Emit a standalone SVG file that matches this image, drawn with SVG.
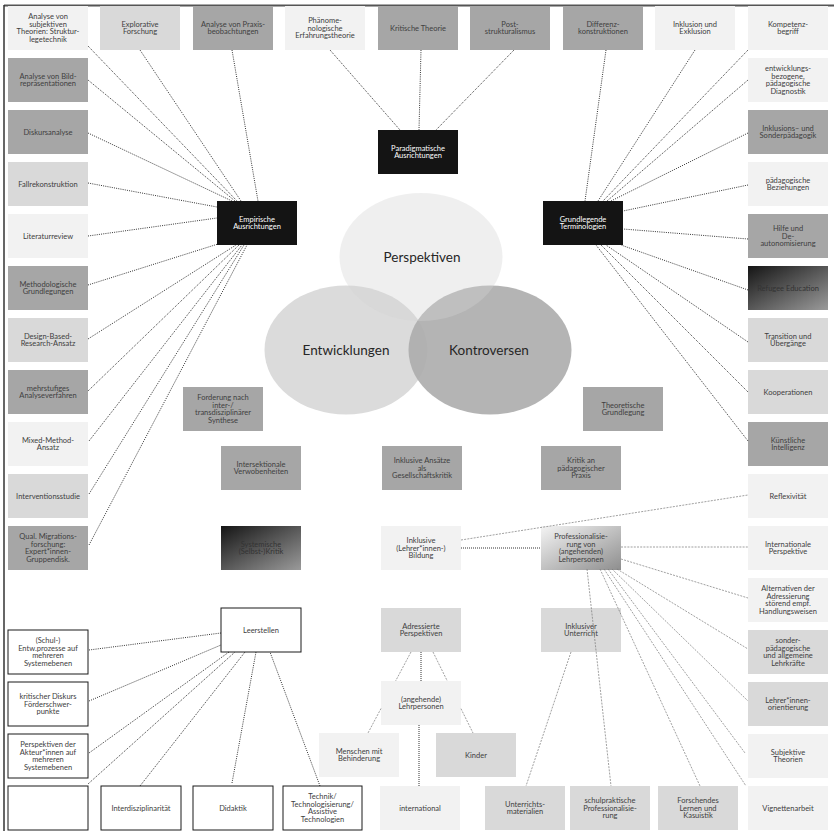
<svg xmlns="http://www.w3.org/2000/svg" width="834" height="831" viewBox="0 0 834 831">
<defs>
<linearGradient id="gDark" x1="0" y1="0" x2="1" y2="1"><stop offset="0" stop-color="#151515"/><stop offset="1" stop-color="#9a9a9a"/></linearGradient>
<linearGradient id="gLight" x1="0" y1="0" x2="1" y2="1"><stop offset="0" stop-color="#f4f4f4"/><stop offset="1" stop-color="#8e8e8e"/></linearGradient>
<style>
.l{fill:#f2f2f2}.m{fill:#d9d9d9}.d{fill:#a6a6a6}.k{fill:#141414}.w{fill:#fff;stroke:#1a1a1a;stroke-width:1}
.gd{fill:url(#gDark)}.gl{fill:url(#gLight)}
text{font-family:Lato,"Liberation Sans",sans-serif;font-size:7.5px;fill:#404040;text-anchor:middle}
text.wt{fill:#fff}
text.big{font-size:13.5px;fill:#262626}
.dot{stroke:#000;stroke-width:0.8;stroke-dasharray:1 1.2;fill:none}
.thin{stroke:#777;stroke-width:0.7;stroke-dasharray:2 1.2;fill:none}
.dk{stroke:#333;stroke-width:1;stroke-dasharray:1 1;fill:none}
</style>
</defs>
<rect width="834" height="831" fill="#fff"/>
<line x1="4" y1="5.5" x2="834" y2="5.5" stroke="#555" stroke-width="2"/>
<line x1="4" y1="5" x2="4" y2="831" stroke="#333" stroke-width="1.5"/>

<g id="venn">
<ellipse cx="346" cy="350" rx="81.5" ry="64.5" fill="#dbdbdb"/>
<ellipse cx="490" cy="350" rx="81.5" ry="64.5" fill="#aeaeae" opacity="0.92"/>
<ellipse cx="421" cy="257" rx="81.5" ry="64" fill="#d4d4d4" opacity="0.36"/>
<text class="big" x="422" y="262">Perspektiven</text>
<text class="big" x="346" y="355">Entwicklungen</text>
<text class="big" x="489" y="355">Kontroversen</text>
</g>

<!-- top row -->
<g id="n-subj"><rect class="l" x="8" y="6" width="80" height="44"/><text><tspan x="48" y="19.2">Analyse von</tspan><tspan x="48" y="26.8">subjektiven</tspan><tspan x="48" y="34.4">Theorien: Struktur-</tspan><tspan x="48" y="42">legetechnik</tspan></text></g>
<g id="n-explor"><rect class="m" x="100" y="6" width="80" height="44"/><text><tspan x="140" y="26.8">Explorative</tspan><tspan x="140" y="34.4">Forschung</tspan></text></g>
<g id="n-praxis"><rect class="d" x="193" y="6" width="80" height="44"/><text><tspan x="233" y="26.8">Analyse von Praxis-</tspan><tspan x="233" y="34.4">beobachtungen</tspan></text></g>
<g id="n-phaeno"><rect class="l" x="285" y="6" width="80" height="44"/><text><tspan x="325" y="23">Phänome-</tspan><tspan x="325" y="30.6">nologische</tspan><tspan x="325" y="38.2">Erfahrungstheorie</tspan></text></g>
<g id="n-krit"><rect class="d" x="378" y="6" width="80" height="44"/><text><tspan x="418" y="30.6">Kritische Theorie</tspan></text></g>
<g id="n-post"><rect class="d" x="470" y="6" width="80" height="44"/><text><tspan x="510" y="26.8">Post-</tspan><tspan x="510" y="34.4">strukturalismus</tspan></text></g>
<g id="n-diff"><rect class="d" x="563" y="6" width="80" height="44"/><text><tspan x="603" y="26.8">Differenz-</tspan><tspan x="603" y="34.4">konstruktionen</tspan></text></g>
<g id="n-inkl"><rect class="l" x="655" y="6" width="80" height="44"/><text><tspan x="695" y="26.8">Inklusion und</tspan><tspan x="695" y="34.4">Exklusion</tspan></text></g>
<g id="n-komp"><rect class="l" x="748" y="6" width="80" height="44"/><text><tspan x="788" y="26.8">Kompetenz-</tspan><tspan x="788" y="34.4">begriff</tspan></text></g>

<!-- left column -->
<g id="n-bild"><rect class="d" x="8" y="58" width="80" height="44"/><text><tspan x="48" y="78.8">Analyse von Bild-</tspan><tspan x="48" y="86.4">repräsentationen</tspan></text></g>
<g id="n-diskurs"><rect class="d" x="8" y="110" width="80" height="44"/><text><tspan x="48" y="134.6">Diskursanalyse</tspan></text></g>
<g id="n-fall"><rect class="m" x="8" y="162" width="80" height="44"/><text><tspan x="48" y="186.6">Fallrekonstruktion</tspan></text></g>
<g id="n-lit"><rect class="l" x="8" y="214" width="80" height="44"/><text><tspan x="48" y="238.6">Literaturreview</tspan></text></g>
<g id="n-meth"><rect class="d" x="8" y="266" width="80" height="44"/><text><tspan x="48" y="286.8">Methodologische</tspan><tspan x="48" y="294.4">Grundlegungen</tspan></text></g>
<g id="n-dbr"><rect class="m" x="8" y="318" width="80" height="44"/><text><tspan x="48" y="338.8">Design-Based-</tspan><tspan x="48" y="346.4">Research-Ansatz</tspan></text></g>
<g id="n-mehr"><rect class="d" x="8" y="370" width="80" height="44"/><text><tspan x="48" y="390.8">mehrstufiges</tspan><tspan x="48" y="398.4">Analyseverfahren</tspan></text></g>
<g id="n-mixed"><rect class="l" x="8" y="422" width="80" height="44"/><text><tspan x="48" y="442.8">Mixed-Method-</tspan><tspan x="48" y="450.4">Ansatz</tspan></text></g>
<g id="n-interv"><rect class="m" x="8" y="474" width="80" height="44"/><text><tspan x="48" y="498.6">Interventionsstudie</tspan></text></g>
<g id="n-qual"><rect class="d" x="8" y="526" width="80" height="44"/><text><tspan x="48" y="539.2">Qual. Migrations-</tspan><tspan x="48" y="546.8">forschung:</tspan><tspan x="48" y="554.4">Expert*innen-</tspan><tspan x="48" y="562">Gruppendisk.</tspan></text></g>

<!-- right column -->
<g id="n-entw"><rect class="l" x="748" y="58" width="80" height="44"/><text><tspan x="788" y="71.2">entwicklungs-</tspan><tspan x="788" y="78.8">bezogene,</tspan><tspan x="788" y="86.4">pädagogische</tspan><tspan x="788" y="94">Diagnostik</tspan></text></g>
<g id="n-sonder"><rect class="d" x="748" y="110" width="80" height="44"/><text><tspan x="788" y="130.8">Inklusions– und</tspan><tspan x="788" y="138.4">Sonderpädagogik</tspan></text></g>
<g id="n-bez"><rect class="l" x="748" y="162" width="80" height="44"/><text><tspan x="788" y="182.8">pädagogische</tspan><tspan x="788" y="190.4">Beziehungen</tspan></text></g>
<g id="n-hilfe"><rect class="d" x="748" y="214" width="80" height="44"/><text><tspan x="788" y="231">Hilfe und</tspan><tspan x="788" y="238.6">De-</tspan><tspan x="788" y="246.2">autonomisierung</tspan></text></g>
<g id="n-refugee"><rect class="gd" x="748" y="266" width="80" height="44"/><text style="fill:#333"><tspan x="788" y="290.6">Refugee Education</tspan></text></g>
<g id="n-trans"><rect class="m" x="748" y="318" width="80" height="44"/><text><tspan x="788" y="338.8">Transition und</tspan><tspan x="788" y="346.4">Übergänge</tspan></text></g>
<g id="n-koop"><rect class="m" x="748" y="370" width="80" height="44"/><text><tspan x="788" y="394.6">Kooperationen</tspan></text></g>
<g id="n-ki"><rect class="d" x="748" y="422" width="80" height="44"/><text><tspan x="788" y="442.8">Künstliche</tspan><tspan x="788" y="450.4">Intelligenz</tspan></text></g>
<g id="n-refl"><rect class="l" x="748" y="474" width="80" height="44"/><text><tspan x="788" y="498.6">Reflexivität</tspan></text></g>
<g id="n-intpersp"><rect class="l" x="748" y="526" width="80" height="44"/><text><tspan x="788" y="546.8">Internationale</tspan><tspan x="788" y="554.4">Perspektive</tspan></text></g>
<g id="n-altern"><rect class="l" x="748" y="578" width="80" height="44"/><text><tspan x="788" y="591.2">Alternativen der</tspan><tspan x="788" y="598.8">Adressierung</tspan><tspan x="788" y="606.4">störend empf.</tspan><tspan x="788" y="614">Handlungsweisen</tspan></text></g>
<g id="n-lehrkr"><rect class="m" x="748" y="630" width="80" height="44"/><text><tspan x="788" y="643.2">sonder-</tspan><tspan x="788" y="650.8">pädagogische</tspan><tspan x="788" y="658.4">und allgemeine</tspan><tspan x="788" y="666">Lehrkräfte</tspan></text></g>
<g id="n-orient"><rect class="m" x="748" y="682" width="80" height="44"/><text><tspan x="788" y="702.8">Lehrer*innen-</tspan><tspan x="788" y="710.4">orientierung</tspan></text></g>
<g id="n-subjth"><rect class="l" x="748" y="734" width="80" height="44"/><text><tspan x="788" y="754.8">Subjektive</tspan><tspan x="788" y="762.4">Theorien</tspan></text></g>
<g id="n-vign"><rect class="l" x="748" y="786" width="80" height="44"/><text><tspan x="788" y="810.6">Vignettenarbeit</tspan></text></g>

<!-- bottom row -->
<g id="n-empty"><rect class="w" x="8" y="786" width="80" height="44"/></g>
<g id="n-interdis"><rect class="w" x="101" y="786" width="80" height="44"/><text><tspan x="141" y="810.6">Interdisziplinarität</tspan></text></g>
<g id="n-didaktik"><rect class="w" x="193" y="786" width="80" height="44"/><text><tspan x="233" y="810.6">Didaktik</tspan></text></g>
<g id="n-technik"><rect class="w" x="283" y="786" width="79" height="44"/><text><tspan x="322.5" y="799.2">Technik/</tspan><tspan x="322.5" y="806.8">Technologisierung/</tspan><tspan x="322.5" y="814.4">Assistive</tspan><tspan x="322.5" y="822">Technologien</tspan></text></g>
<g id="n-international"><rect class="l" x="380" y="786" width="80" height="44"/><text><tspan x="420" y="810.6">international</tspan></text></g>
<g id="n-material"><rect class="m" x="485" y="786" width="80" height="44"/><text><tspan x="525" y="806.8">Unterrichts-</tspan><tspan x="525" y="814.4">materialien</tspan></text></g>
<g id="n-schulprakt"><rect class="m" x="570" y="786" width="80" height="44"/><text><tspan x="610" y="803">schulpraktische</tspan><tspan x="610" y="810.6">Professionalisie-</tspan><tspan x="610" y="818.2">rung</tspan></text></g>
<g id="n-forsch"><rect class="m" x="658" y="786" width="80" height="44"/><text><tspan x="698" y="803">Forschendes</tspan><tspan x="698" y="810.6">Lernen und</tspan><tspan x="698" y="818.2">Kasuistik</tspan></text></g>

<!-- left lower -->
<g id="n-schul"><rect class="w" x="8" y="630" width="80" height="44"/><text><tspan x="48" y="643.2">(Schul-)</tspan><tspan x="48" y="650.8">Entw.prozesse auf</tspan><tspan x="48" y="658.4">mehreren</tspan><tspan x="48" y="666">Systemebenen</tspan></text></g>
<g id="n-foerder"><rect class="w" x="8" y="682" width="80" height="44"/><text><tspan x="48" y="699">kritischer Diskurs</tspan><tspan x="48" y="706.6">Förderschwer-</tspan><tspan x="48" y="714.2">punkte</tspan></text></g>
<g id="n-akteur"><rect class="w" x="8" y="734" width="80" height="44"/><text><tspan x="48" y="747.2">Perspektiven der</tspan><tspan x="48" y="754.8">Akteur*innen auf</tspan><tspan x="48" y="762.4">mehreren</tspan><tspan x="48" y="770">Systemebenen</tspan></text></g>

<!-- center -->
<g id="n-paradigm"><rect class="k" x="378" y="130" width="80" height="44"/><text class="wt"><tspan x="418" y="150.8">Paradigmatische</tspan><tspan x="418" y="158.4">Ausrichtungen</tspan></text></g>
<g id="n-empir"><rect class="k" x="217" y="201" width="80" height="44"/><text class="wt"><tspan x="257" y="221.8">Empirische</tspan><tspan x="257" y="229.4">Ausrichtungen</tspan></text></g>
<g id="n-grundl"><rect class="k" x="543" y="201" width="80" height="44"/><text class="wt"><tspan x="583" y="221.8">Grundlegende</tspan><tspan x="583" y="229.4">Terminologien</tspan></text></g>
<g id="n-forderung"><rect class="d" x="183" y="387" width="80" height="44"/><text><tspan x="223" y="400.2">Forderung nach</tspan><tspan x="223" y="407.8">inter-/</tspan><tspan x="223" y="415.4">transdisziplinärer</tspan><tspan x="223" y="423">Synthese</tspan></text></g>
<g id="n-intersekt"><rect class="d" x="221" y="446" width="80" height="44"/><text><tspan x="261" y="466.8">Intersektionale</tspan><tspan x="261" y="474.4">Verwobenheiten</tspan></text></g>
<g id="n-system"><rect class="gd" x="221" y="526" width="80" height="44"/><text style="fill:#333"><tspan x="261" y="546.8">Systemische</tspan><tspan x="261" y="554.4">(Selbst-)Kritik</tspan></text></g>
<g id="n-gesell"><rect class="d" x="382" y="446" width="80" height="44"/><text><tspan x="422" y="463">Inklusive Ansätze</tspan><tspan x="422" y="470.6">als</tspan><tspan x="422" y="478.2">Gesellschaftskritik</tspan></text></g>
<g id="n-theor"><rect class="d" x="583" y="387" width="80" height="44"/><text><tspan x="623" y="407.8">Theoretische</tspan><tspan x="623" y="415.4">Grundlegung</tspan></text></g>
<g id="n-kritik"><rect class="d" x="541" y="446" width="80" height="44"/><text><tspan x="581" y="463">Kritik an</tspan><tspan x="581" y="470.6">pädagogischer</tspan><tspan x="581" y="478.2">Praxis</tspan></text></g>
<g id="n-bildung"><rect class="l" x="381" y="526" width="80" height="44"/><text><tspan x="421" y="543">Inklusive</tspan><tspan x="421" y="550.6">(Lehrer*innen-)</tspan><tspan x="421" y="558.2">Bildung</tspan></text></g>
<g id="n-prof"><rect class="gl" x="541" y="526" width="80" height="44"/><text><tspan x="581" y="539.2">Professionalisie-</tspan><tspan x="581" y="546.8">rung von</tspan><tspan x="581" y="554.4">(angehenden)</tspan><tspan x="581" y="562">Lehrpersonen</tspan></text></g>
<g id="n-leer"><rect class="w" x="221" y="608" width="80" height="44"/><text><tspan x="261" y="632.6">Leerstellen</tspan></text></g>
<g id="n-adress"><rect class="m" x="381" y="608" width="80" height="44"/><text><tspan x="421" y="628.8">Adressierte</tspan><tspan x="421" y="636.4">Perspektiven</tspan></text></g>
<g id="n-unterr"><rect class="m" x="541" y="608" width="80" height="44"/><text><tspan x="581" y="628.8">Inklusiver</tspan><tspan x="581" y="636.4">Unterricht</tspan></text></g>
<g id="n-lehrp"><rect class="l" x="381" y="681" width="80" height="44"/><text><tspan x="421" y="701.8">(angehende)</tspan><tspan x="421" y="709.4">Lehrpersonen</tspan></text></g>
<g id="n-behind"><rect class="l" x="319" y="733" width="80" height="44"/><text><tspan x="359" y="753.8">Menschen mit</tspan><tspan x="359" y="761.4">Behinderung</tspan></text></g>
<g id="n-kinder"><rect class="m" x="436" y="733" width="80" height="44"/><text><tspan x="476" y="757.6">Kinder</tspan></text></g>

<g id="connectors">
<g class="dot">
<line x1="88" y1="46" x2="237" y2="201"/>
<line x1="140" y1="50" x2="241" y2="201"/>
<line x1="232" y1="50" x2="258" y2="201"/>
<line x1="88" y1="80" x2="235" y2="201"/>
<line x1="88" y1="133" x2="232" y2="201"/>
<line x1="88" y1="183" x2="217" y2="207"/>
<line x1="88" y1="236" x2="217" y2="218"/>
<line x1="88" y1="285" x2="218" y2="244"/>
<line x1="88" y1="339" x2="236" y2="245"/>
<line x1="88" y1="391" x2="239" y2="245"/>
<line x1="89" y1="441" x2="242" y2="245"/>
<line x1="89" y1="494" x2="244" y2="245"/>
<line x1="89" y1="545" x2="247" y2="245"/>
<line x1="330" y1="50" x2="400" y2="130"/>
<line x1="421" y1="50" x2="419" y2="130"/>
<line x1="514" y1="50" x2="436" y2="130"/>
<line x1="606" y1="50" x2="585" y2="201"/>
<line x1="695" y1="50" x2="598" y2="201"/>
<line x1="748" y1="50" x2="603" y2="201"/>
<line x1="748" y1="80" x2="607" y2="201"/>
<line x1="748" y1="133" x2="611" y2="201"/>
<line x1="748" y1="185" x2="623" y2="211"/>
<line x1="748" y1="239" x2="623" y2="229"/>
<line x1="748" y1="290" x2="621" y2="245"/>
<line x1="748" y1="342" x2="606" y2="245"/>
<line x1="748" y1="392" x2="601" y2="245"/>
<line x1="748" y1="441" x2="596" y2="245"/>
<line x1="89" y1="650" x2="221" y2="633"/>
<line x1="89" y1="701" x2="221" y2="645"/>
<line x1="89" y1="753" x2="229" y2="652"/>
<line x1="88" y1="784" x2="235" y2="652"/>
<line x1="140" y1="786" x2="245" y2="652"/>
<line x1="232" y1="783" x2="256" y2="652"/>
<line x1="320" y1="786" x2="270" y2="652"/>
</g>
<g class="dk">
<line x1="461" y1="548" x2="541" y2="548"/>
<line x1="421" y1="652" x2="421" y2="681"/>
<line x1="419" y1="725" x2="419" y2="786"/>
</g>
<g class="thin">
<line x1="461" y1="540" x2="748" y2="495"/>
<line x1="621" y1="547" x2="748" y2="547"/>
<line x1="621" y1="559" x2="748" y2="598"/>
<line x1="617" y1="569" x2="748" y2="649"/>
<line x1="612" y1="569" x2="748" y2="701"/>
<line x1="608" y1="569" x2="745" y2="753"/>
<line x1="604" y1="569" x2="746" y2="786"/>
<line x1="600" y1="569" x2="700" y2="786"/>
<line x1="587" y1="569" x2="611" y2="786"/>
<line x1="571" y1="652" x2="526" y2="786"/>
<line x1="411" y1="652" x2="395.6" y2="681"/>
<line x1="381" y1="708.5" x2="368" y2="733"/>
<line x1="433" y1="652" x2="447.3" y2="681"/>
<line x1="461" y1="708.7" x2="473" y2="733"/>
</g>
</g>
</svg>
